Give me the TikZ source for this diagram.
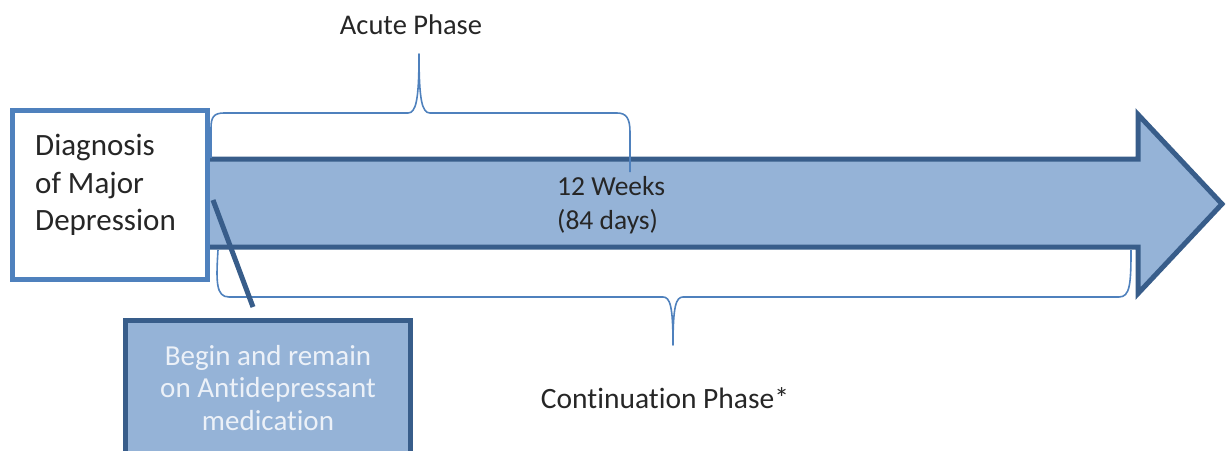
\documentclass[tikz,border=0pt]{standalone}
\usepackage{fontspec}
\setmainfont{Carlito}[RawFeature=-liga]

\definecolor{shaftfill}{RGB}{149,179,215}
\definecolor{darkedge}{RGB}{56,93,138}
\definecolor{midblue}{RGB}{79,129,189}
\definecolor{textdark}{RGB}{38,38,38}
\definecolor{paletext}{RGB}{236,241,248}

\begin{document}
\begin{tikzpicture}[x=1pt,y=-1pt,
  label/.style={text=textdark, inner sep=0pt, font=\fontsize{28.5}{34}\selectfont},
  timeline/.style={fill=shaftfill, draw=darkedge, line width=5pt, miter limit=10},
  diagbox/.style={draw=midblue, fill=white, line width=5pt, minimum width=195pt, minimum height=169pt, inner sep=0pt},
  medbox/.style={draw=darkedge, fill=shaftfill, line width=5pt, minimum width=285pt, minimum height=150pt, inner sep=0pt},
  brace/.style={draw=midblue, line width=1.6pt, line join=round},
  link/.style={draw=darkedge, line width=5pt}
]
\useasboundingbox (0,0) rectangle (1226,450);

% the 12-week timeline arrow
\draw[timeline] (200,159) -- (1138,159) -- (1138,114.5) -- (1222,204)
  -- (1138,293.5) -- (1138,247) -- (200,247) -- cycle;

% acute phase brace (above the timeline)
\draw[brace] (211,158) -- (211,128) .. controls (211,117) and (214,113) .. (224,113)
  -- (408,113) .. controls (416,113) and (419,100) .. (419,54)
  .. controls (419,100) and (422,113) .. (430,113)
  -- (617,113) .. controls (626,113) and (630,118) .. (630,132) -- (630,172);

% continuation phase brace (below the timeline)
\draw[brace] (218,250) .. controls (216,282) and (216,297) .. (229,297)
  -- (663,297) .. controls (670,297) and (673,306) .. (673,345)
  .. controls (673,306) and (676,297) .. (683,297)
  -- (1119,297) .. controls (1130,297) and (1131,284) .. (1131,250);

% start of treatment
\node[diagbox] (diag) at (110,195) {};
\node[label, anchor=west, align=left, font=\fontsize{31}{37.5}\selectfont] (diagtext) at (35,185)
  {Diagnosis\\of Major\\Depression};

\node[medbox] (med) at (268,395.5) {};
\node[label, text=paletext, align=center, font=\fontsize{29}{32.5}\selectfont] (medtext) at (268,388)
  {Begin and remain\\on Antidepressant\\medication};

\coordinate (linkstart) at (213,200);
\coordinate (linkend) at (253,307);
\draw[link] (linkstart) -- (linkend);

% labels
\node[label] (acute) at (411,25) {Acute Phase};
\node[label, anchor=west, align=left, font=\fontsize{27.5}{34}\selectfont] (weeks) at (557,205)
  {12 Weeks\\(84 days)};
\node[label, font=\fontsize{29.5}{34}\selectfont] (cont) at (665,398) {Continuation Phase*};
\end{tikzpicture}
\end{document}
